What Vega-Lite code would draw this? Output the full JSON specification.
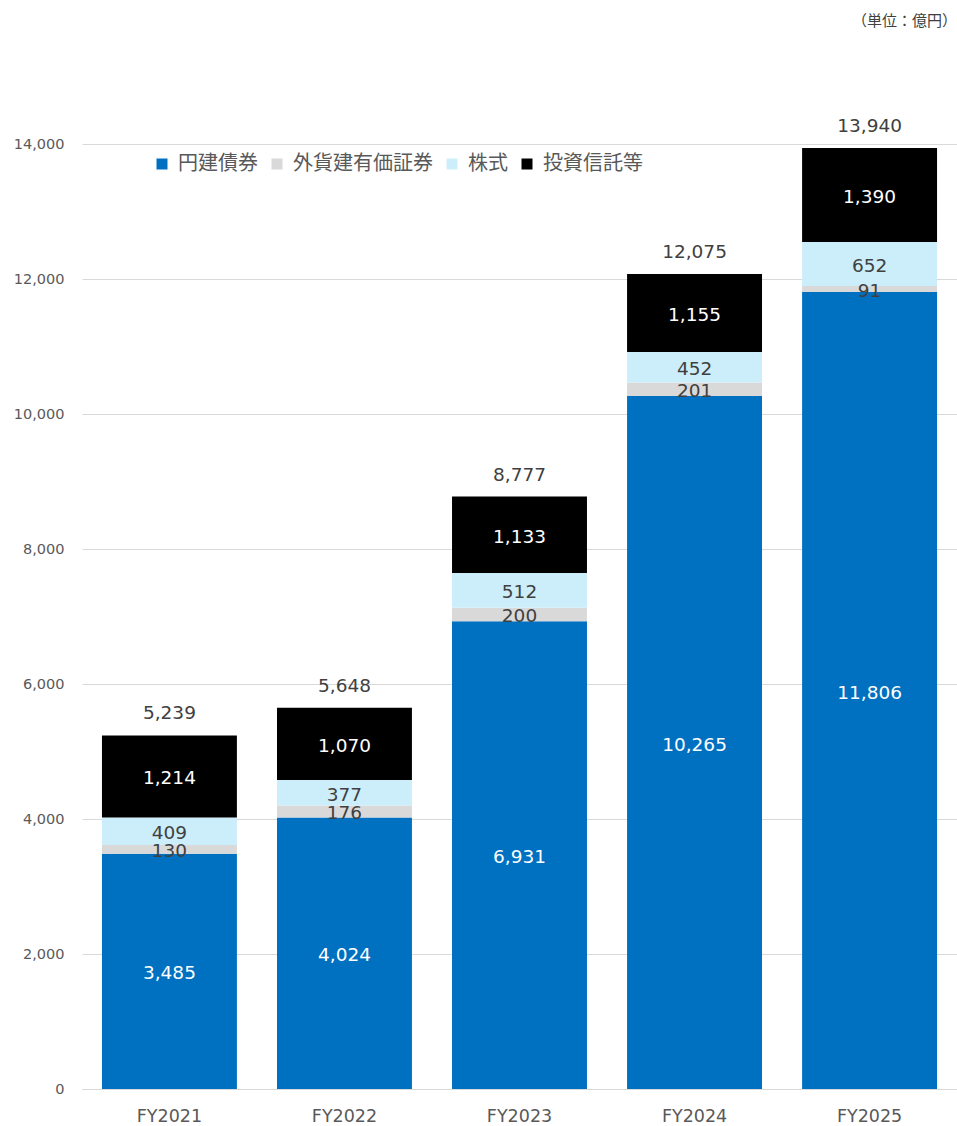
{
  "$schema": "https://vega.github.io/schema/vega-lite/v6.json",
  "autosize": {"type": "none"},
  "width": 875,
  "height": 945,
  "padding": {"left": 82, "top": 144, "right": 0, "bottom": 37},
  "background": "white",
  "config": {
    "font": "DejaVu Sans, Noto Sans CJK JP",
    "view": {"stroke": null}
  },
  "title": {
    "text": "（単位：億円）",
    "anchor": "end",
    "frame": "group",
    "orient": "top",
    "offset": 88,
    "fontSize": 15,
    "fontWeight": "normal",
    "color": "#404040",
    "font": "Noto Sans CJK JP"
  },
  "datasets": {
    "segments": [
      {"year": "FY2021", "series": "円建債券", "ord": 1, "value": 3485},
      {"year": "FY2021", "series": "外貨建有価証券", "ord": 2, "value": 130},
      {"year": "FY2021", "series": "株式", "ord": 3, "value": 409},
      {"year": "FY2021", "series": "投資信託等", "ord": 4, "value": 1214},
      {"year": "FY2022", "series": "円建債券", "ord": 1, "value": 4024},
      {"year": "FY2022", "series": "外貨建有価証券", "ord": 2, "value": 176},
      {"year": "FY2022", "series": "株式", "ord": 3, "value": 377},
      {"year": "FY2022", "series": "投資信託等", "ord": 4, "value": 1070},
      {"year": "FY2023", "series": "円建債券", "ord": 1, "value": 6931},
      {"year": "FY2023", "series": "外貨建有価証券", "ord": 2, "value": 200},
      {"year": "FY2023", "series": "株式", "ord": 3, "value": 512},
      {"year": "FY2023", "series": "投資信託等", "ord": 4, "value": 1133},
      {"year": "FY2024", "series": "円建債券", "ord": 1, "value": 10265},
      {"year": "FY2024", "series": "外貨建有価証券", "ord": 2, "value": 201},
      {"year": "FY2024", "series": "株式", "ord": 3, "value": 452},
      {"year": "FY2024", "series": "投資信託等", "ord": 4, "value": 1155},
      {"year": "FY2025", "series": "円建債券", "ord": 1, "value": 11806},
      {"year": "FY2025", "series": "外貨建有価証券", "ord": 2, "value": 91},
      {"year": "FY2025", "series": "株式", "ord": 3, "value": 652},
      {"year": "FY2025", "series": "投資信託等", "ord": 4, "value": 1390}
    ],
    "totals": [
      {"year": "FY2021", "total": 5239},
      {"year": "FY2022", "total": 5648},
      {"year": "FY2023", "total": 8777},
      {"year": "FY2024", "total": 12075},
      {"year": "FY2025", "total": 13940}
    ]
  },
  "layer": [
    {
      "data": {"name": "segments"},
      "mark": {"type": "bar"},
      "encoding": {
        "x": {
          "field": "year", "type": "nominal", "title": null,
          "scale": {"paddingInner": 0.229, "paddingOuter": 0.114},
          "axis": {
            "labelAngle": 0, "labelFontSize": 17.5, "labelColor": "#595959",
            "labelPadding": 18, "ticks": false, "domainColor": "#d9d9d9",
            "domainWidth": 1
          }
        },
        "y": {
          "field": "value", "type": "quantitative", "stack": "zero", "title": null,
          "scale": {"domain": [0, 14000], "nice": false},
          "axis": {
            "values": [0, 2000, 4000, 6000, 8000, 10000, 12000, 14000],
            "format": ",d", "labelFontSize": 14.5, "labelColor": "#595959",
            "ticks": false, "domain": false, "labelPadding": 18,
            "gridColor": "#d9d9d9", "gridWidth": 1
          }
        },
        "order": {"field": "ord", "type": "quantitative"},
        "color": {
          "field": "series", "type": "nominal",
          "sort": ["円建債券", "外貨建有価証券", "株式", "投資信託等"],
          "scale": {
            "domain": ["円建債券", "外貨建有価証券", "株式", "投資信託等"],
            "range": ["#0070C0", "#D9D9D9", "#CCEEFA", "#000000"]
          },
          "legend": {
            "title": null, "orient": "none", "legendX": 70, "legendY": 10,
            "direction": "horizontal", "symbolType": "square", "symbolSize": 121,
            "symbolStrokeWidth": 0,
            "labelFontSize": 20, "labelColor": "#595959", "labelFont": "Noto Sans CJK JP",
            "labelOffset": 6, "columnPadding": 9
          }
        }
      }
    },
    {
      "data": {"name": "segments"},
      "transform": [
        {"stack": "value", "groupby": ["year"], "sort": [{"field": "ord"}], "as": ["v0", "v1"]},
        {"calculate": "(datum.v0 + datum.v1) / 2", "as": "mid"}
      ],
      "mark": {"type": "text", "fontSize": 18.5, "baseline": "middle", "align": "center", "dy": 2},
      "encoding": {
        "x": {"field": "year", "type": "nominal"},
        "y": {"field": "mid", "type": "quantitative"},
        "text": {"field": "value", "type": "quantitative", "format": ","},
        "color": {
          "condition": {"test": "datum.series === '円建債券' || datum.series === '投資信託等'", "value": "white"},
          "value": "#404040"
        }
      }
    },
    {
      "data": {"name": "totals"},
      "mark": {"type": "text", "fontSize": 18.5, "baseline": "bottom", "align": "center", "dy": -12, "color": "#404040"},
      "encoding": {
        "x": {"field": "year", "type": "nominal"},
        "y": {"field": "total", "type": "quantitative"},
        "text": {"field": "total", "type": "quantitative", "format": ","}
      }
    }
  ]
}
